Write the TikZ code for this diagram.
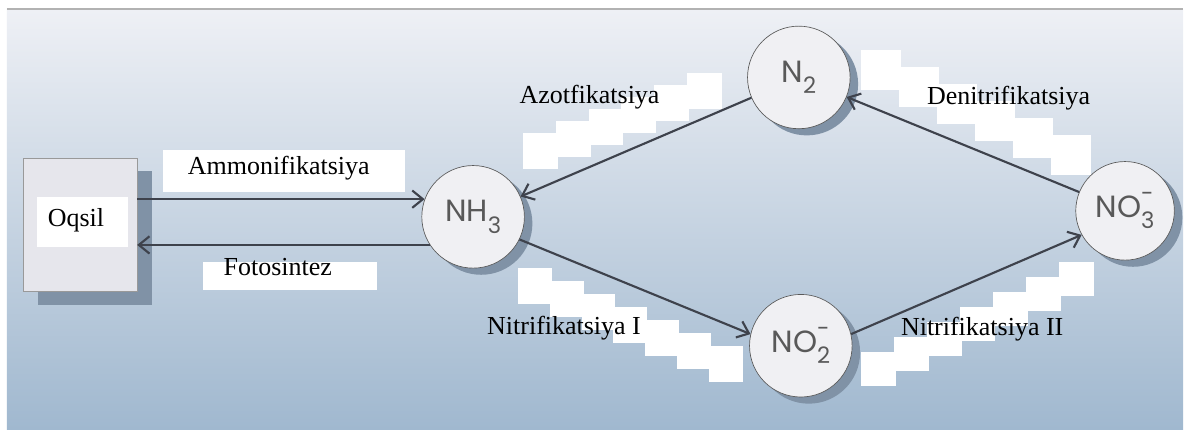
\documentclass[tikz,border=0pt]{standalone}
\usepackage{fontspec}
\setmainfont{Liberation Serif}
\newfontfamily\chemfont{Poppins}
\usepackage{tikz}
\usetikzlibrary{arrows.meta,shadows}

\definecolor{bgtop}{RGB}{238,240,245}
\definecolor{bgmid}{RGB}{194,209,225}
\definecolor{bgbot}{RGB}{160,184,207}
\definecolor{linec}{RGB}{62,66,76}
\definecolor{shadowc}{RGB}{128,146,166}
\definecolor{ballc}{RGB}{240,240,243}
\definecolor{boxc}{RGB}{230,230,236}

\newcommand{\chemsub}[1]{\raisebox{-0.38em}{\fontsize{17}{17}\selectfont #1}}
\newcommand{\chemion}[1]{\rlap{\raisebox{0.5em}{\fontsize{17}{17}\selectfont -}}\raisebox{-0.38em}{\fontsize{17}{17}\selectfont #1}}

\begin{document}
\begin{tikzpicture}[x=0.75pt, y=-0.75pt,
    ball/.style={circle, draw=gray!70!black, line width=0.5pt, fill=ballc,
      minimum size=77pt, inner sep=0pt, text=black!65,
      font=\chemfont\fontsize{23}{23}\selectfont,
      drop shadow={shadow xshift=6pt, shadow yshift=-5pt, fill=shadowc, opacity=1}},
    lbl/.style={font=\fontsize{19.5}{20}\selectfont, inner sep=0pt},
    flow/.style={draw=linec, line width=1.6pt,
      -{Straight Barb[length=8pt, width=13pt, line width=1.6pt]}},
    patch/.style={fill=white}]

    % background
    \fill [white] (0, 0) rectangle (1184, 430);
    \shade [top color=bgtop, middle color=bgmid, bottom color=bgbot] (7, 10) rectangle (1184, 430);
    \draw [gray!60, line width=1.5pt] (7, 9) -- (1184, 9);

    % white patches
    \fill [patch] (163, 150) rectangle (405, 192);
    \fill [patch] (203, 262) rectangle (377, 290);
    \foreach \i in {0,...,5}
      \fill [patch] (523+33*\i, 133-12*\i) rectangle ++(35, 36);
    \foreach \i in {0,...,5}
      \fill [patch] (862+38*\i, 50+17*\i) rectangle ++(40, 40);
    \foreach \i in {0,...,6}
      \fill [patch] (518+32*\i, 268+13*\i) rectangle ++(34, 36);
    \foreach \i in {0,...,6}
      \fill [patch] (862+33*\i, 352-15*\i) rectangle ++(35, 34);

    % Oqsil box
    \node [draw=gray!80, fill=boxc, minimum width=85.5pt, minimum height=100.5pt,
      drop shadow={shadow xshift=11pt, shadow yshift=-10pt, fill=shadowc, opacity=1}]
      (oqsil) at (80, 225) {};
    \fill [patch] (37, 197) rectangle (128, 247);
    \node [lbl] (oqsiltext) at (76, 220) {Oqsil};

    % molecules
    \node [ball] (nh3) at (473.5, 217) {NH\chemsub{3}};
    \node [ball] (n2) at (799.5, 77.5) {N\chemsub{2}};
    \node [ball, minimum size=74pt] (no3) at (1126, 211) {NO\chemion{3}};
    \node [ball] (no2) at (801.5, 346) {NO\chemion{2}};

    % arrows
    \draw [flow] (oqsil.east |- nh3.160) -- (nh3.160);
    \draw [flow] (nh3.213) -- (oqsil.east |- nh3.213);
    \draw [flow] (n2) -- (nh3);
    \draw [flow] (no3) -- (n2);
    \draw [flow] (nh3.-26) -- (no2.167);
    \draw [flow] (no2.13) -- (no3.209);

    % labels
    \node [lbl] (ammon) at (279, 168) {Ammonifikatsiya};
    \node [lbl] (foto) at (278, 267) {Fotosintez};
    \node [lbl] (azot) at (590, 97.5) {Azotfikatsiya};
    \node [lbl] (denit) at (1009.5, 98) {Denitrifikatsiya};
    \node [lbl] (nitra) at (564.5, 328) {Nitrifikatsiya I};
    \node [lbl] (nitrb) at (983, 329) {Nitrifikatsiya II};

  \end{tikzpicture}
\end{document}
